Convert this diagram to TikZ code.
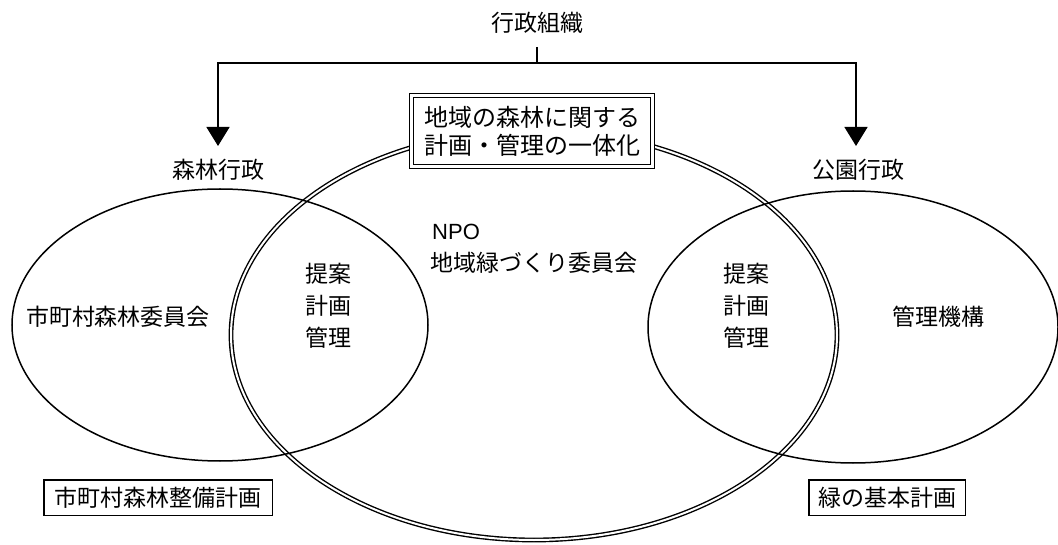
\documentclass[tikz,border=0pt]{standalone}
\usepackage{fontspec}
\setmainfont{Noto Sans CJK JP}
\newfontfamily\latinsans{Liberation Sans}
\usetikzlibrary{shapes.geometric,arrows.meta}
\tikzset{
  txt/.style={inner sep=0pt, font=\fontsize{23}{28}\selectfont},
  stack/.style={inner sep=0pt, align=center, font=\fontsize{23}{32}\selectfont},
  oval/.style={draw, ellipse, inner sep=0pt, line width=1.5pt},
  bigoval/.style={draw, ellipse, inner sep=0pt, double, line width=1.4pt, double distance=2pt},
  plainbox/.style={draw, line width=1.5pt, inner sep=0pt, font=\fontsize{23}{28}\selectfont},
  titlebox/.style={draw, double, line width=1.3pt, double distance=2.5pt, fill=white, inner sep=0pt,
                   align=center, font=\fontsize{24}{28}\selectfont},
  link/.style={line width=1.5pt},
  arrowlink/.style={line width=1.5pt, -{Triangle[width=23pt,length=19pt]}}
}
\begin{document}
\begin{tikzpicture}[x=1pt,y=-1pt]
\useasboundingbox (0,0) rectangle (1058,545);
% ellipses
\node[bigoval, minimum width=606pt, minimum height=410pt] (npoeng) at (534,335) {};
\node[oval, minimum width=416pt, minimum height=272pt] (forestoval) at (220,325) {};
\node[oval, minimum width=410pt, minimum height=272pt] (parkoval) at (853,327) {};
% title box
\node[titlebox, minimum width=241pt, minimum height=71pt] (title) at (532,131) {地域の森林に関する\\計画・管理の一体化};
% top organisation
\node[txt] (org) at (537,23) {行政組織};
\coordinate (orgfoot) at (537,47);
\coordinate (junction) at (537,63);
\coordinate (lefttip) at (218,146);
\coordinate (righttip) at (856,146);
\draw[link] (orgfoot) -- (junction);
\draw[arrowlink] (junction) -| (lefttip);
\draw[arrowlink] (junction) -| (righttip);
\node[txt] (forestadmin) at (218,170) {森林行政};
\node[txt] (parkadmin) at (858,170) {公園行政};
% inner texts
\node[txt] (forestcomm) at (118,317) {市町村森林委員会};
\node[stack] (leftjoint) at (328,306) {提案\\計画\\管理};
\node[stack] (rightjoint) at (746,306) {提案\\計画\\管理};
\node[txt] (mgmt) at (938,317) {管理機構};
\node[inner sep=0pt, anchor=west, font=\latinsans\fontsize{22}{26}\selectfont] (npo) at (432,232) {NPO};
\node[txt, anchor=west] (npocomm) at (430,263) {地域緑づくり委員会};
% bottom boxes
\node[plainbox, minimum width=228.5pt, minimum height=35.5pt] (forestplan) at (158,497.5) {市町村森林整備計画};
\node[plainbox, minimum width=156.5pt, minimum height=35.5pt] (greenplan) at (887,497.5) {緑の基本計画};
\end{tikzpicture}
\end{document}
